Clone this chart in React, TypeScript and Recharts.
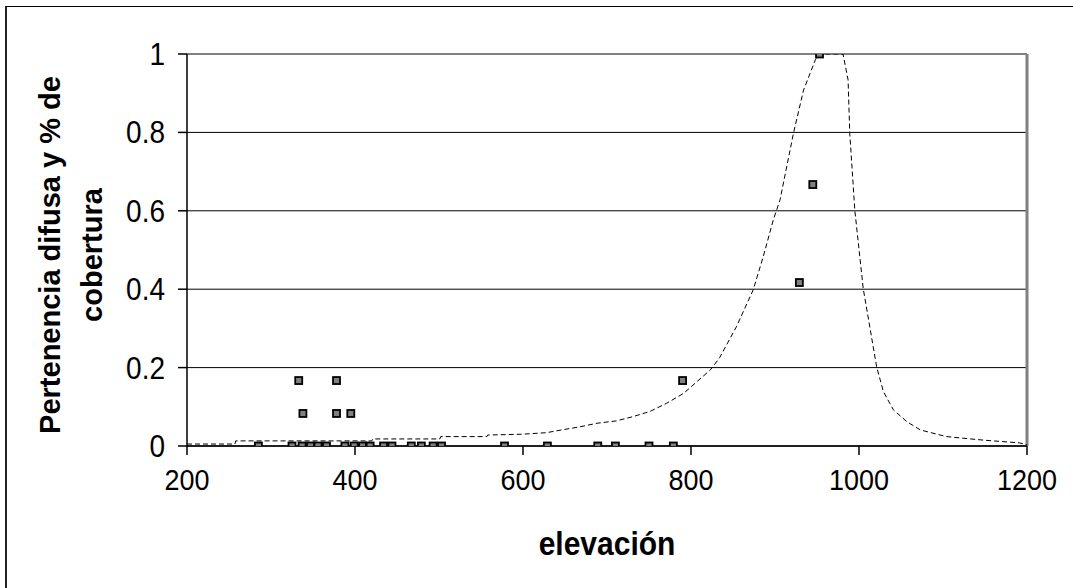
import React from 'react';
import {
  ComposedChart,
  Line,
  Scatter,
  XAxis,
  YAxis,
  CartesianGrid,
  ReferenceLine,
  Label,
} from 'recharts';

const curveElev = [200, 257, 258, 420, 421, 501, 502, 557, 558, 598, 628, 646, 668, 688, 711, 731, 751, 771, 791, 807, 823, 834, 854, 874, 886, 898, 906, 922, 934, 948, 953, 981, 987, 989, 995, 1005, 1021, 1029, 1041, 1057, 1073, 1104, 1148, 1191, 1200];
const curveMembership = [0.005, 0.005, 0.013, 0.013, 0.018, 0.018, 0.024, 0.024, 0.028, 0.03, 0.034, 0.041, 0.049, 0.058, 0.064, 0.075, 0.088, 0.109, 0.134, 0.164, 0.194, 0.225, 0.304, 0.398, 0.483, 0.577, 0.628, 0.798, 0.908, 0.985, 1.0, 1.0, 0.934, 0.798, 0.602, 0.402, 0.202, 0.139, 0.092, 0.062, 0.041, 0.024, 0.015, 0.008, 0.003];

const pointElev = [285, 325, 337, 347, 356, 366, 388, 399, 409, 418, 434, 444, 467, 479, 493, 503, 578, 629, 689, 710, 750, 779, 333, 378, 338, 378, 395, 790, 929, 945, 953];
const pointCover = [0, 0, 0, 0, 0, 0, 0, 0, 0, 0, 0, 0, 0, 0, 0, 0, 0, 0, 0, 0, 0, 0, 0.167, 0.167, 0.083, 0.083, 0.083, 0.167, 0.417, 0.667, 1.0];

const xTicks = [200, 400, 600, 800, 1000, 1200];
const yTicks = [0, 0.2, 0.4, 0.6, 0.8, 1];

const xTitle = 'elevación';
const yTitleLines = ['Pertenencia difusa y % de', 'cobertura'];

const curveData = curveElev.map((x, i) => ({ x, y: curveMembership[i] }));
const pointData = pointElev.map((x, i) => ({ x, y: pointCover[i] }));

const FONT = '"Liberation Sans", Arial, sans-serif';

const SquareMarker = (props: any) => {
  const { cx, cy } = props;
  return <rect x={cx - 3.5} y={cy - 3.5} width={7} height={7} fill="#808080" stroke="#000" strokeWidth={1.8} />;
};

const XTick = (props: any) => {
  const { x, y, payload } = props;
  return (
    <text transform={`translate(${x},${y}) scale(1,1.12)`} textAnchor="middle" dy="0.71em" fontFamily={FONT} fontSize={27} fill="#000">
      {payload.value}
    </text>
  );
};

const YTick = (props: any) => {
  const { x, y, payload } = props;
  return (
    <text transform={`translate(${x},${y}) scale(1,1.1)`} textAnchor="end" dy="0.355em" fontFamily={FONT} fontSize={28} fill="#000">
      {payload.value}
    </text>
  );
};

export default function App() {
  return (
    <div style={{ position: 'absolute', left: 0, top: 0, width: 1073, height: 588, background: '#fff', overflow: 'hidden' }}>
      <div
        style={{
          position: 'absolute',
          left: 5,
          top: 6,
          width: 1100,
          height: 600,
          borderLeft: '2px solid #222',
          borderTop: '1px solid #000',
        }}
      />
      <div style={{ position: 'absolute', left: 0, top: 0 }}>
        <ComposedChart
          width={1073}
          height={588}
          margin={{ top: 54, right: 46, bottom: 82, left: 87 }}
          style={{ fontFamily: FONT }}
        >
          <CartesianGrid horizontal vertical={false} stroke="#000" strokeWidth={1} />
          <XAxis
            type="number"
            dataKey="x"
            domain={[200, 1200]}
            ticks={xTicks}
            allowDataOverflow
            height={60}
            stroke="#000"
            strokeWidth={1.5}
            tickSize={9}
            tickMargin={14}
            tick={<XTick />}
            tickLine={{ stroke: '#000' }}
          >
            <Label
              content={() => (
                <text transform="translate(607,555) scale(1,1.08)" textAnchor="middle" fontFamily={FONT} fontWeight="bold" fontSize={30} fill="#000">
                  {xTitle}
                </text>
              )}
            />
          </XAxis>
          <YAxis
            type="number"
            dataKey="y"
            domain={[0, 1]}
            ticks={yTicks}
            allowDataOverflow
            width={100}
            stroke="#000"
            strokeWidth={1.5}
            tickSize={9}
            tickMargin={13}
            tick={<YTick />}
            tickLine={{ stroke: '#000' }}
          >
            <Label
              content={() => (
                <g>
                  <text transform="translate(60,255) rotate(-90)" textAnchor="middle" fontFamily={FONT} fontWeight="bold" fontSize={29} fill="#000">
                    {yTitleLines[0]}
                  </text>
                  <text transform="translate(102,255) rotate(-90)" textAnchor="middle" fontFamily={FONT} fontWeight="bold" fontSize={29} fill="#000">
                    {yTitleLines[1]}
                  </text>
                </g>
              )}
            />
          </YAxis>
          <ReferenceLine y={1} stroke="#808080" strokeWidth={2} />
          <ReferenceLine x={1200} stroke="#808080" strokeWidth={3} />
          <Line
            data={curveData}
            dataKey="y"
            type="linear"
            stroke="#000"
            strokeWidth={1}
            strokeDasharray="5 3"
            dot={false}
            activeDot={false}
            isAnimationActive={false}
          />
          <Scatter data={pointData} dataKey="y" shape={SquareMarker} isAnimationActive={false} />
        </ComposedChart>
      </div>
    </div>
  );
}
